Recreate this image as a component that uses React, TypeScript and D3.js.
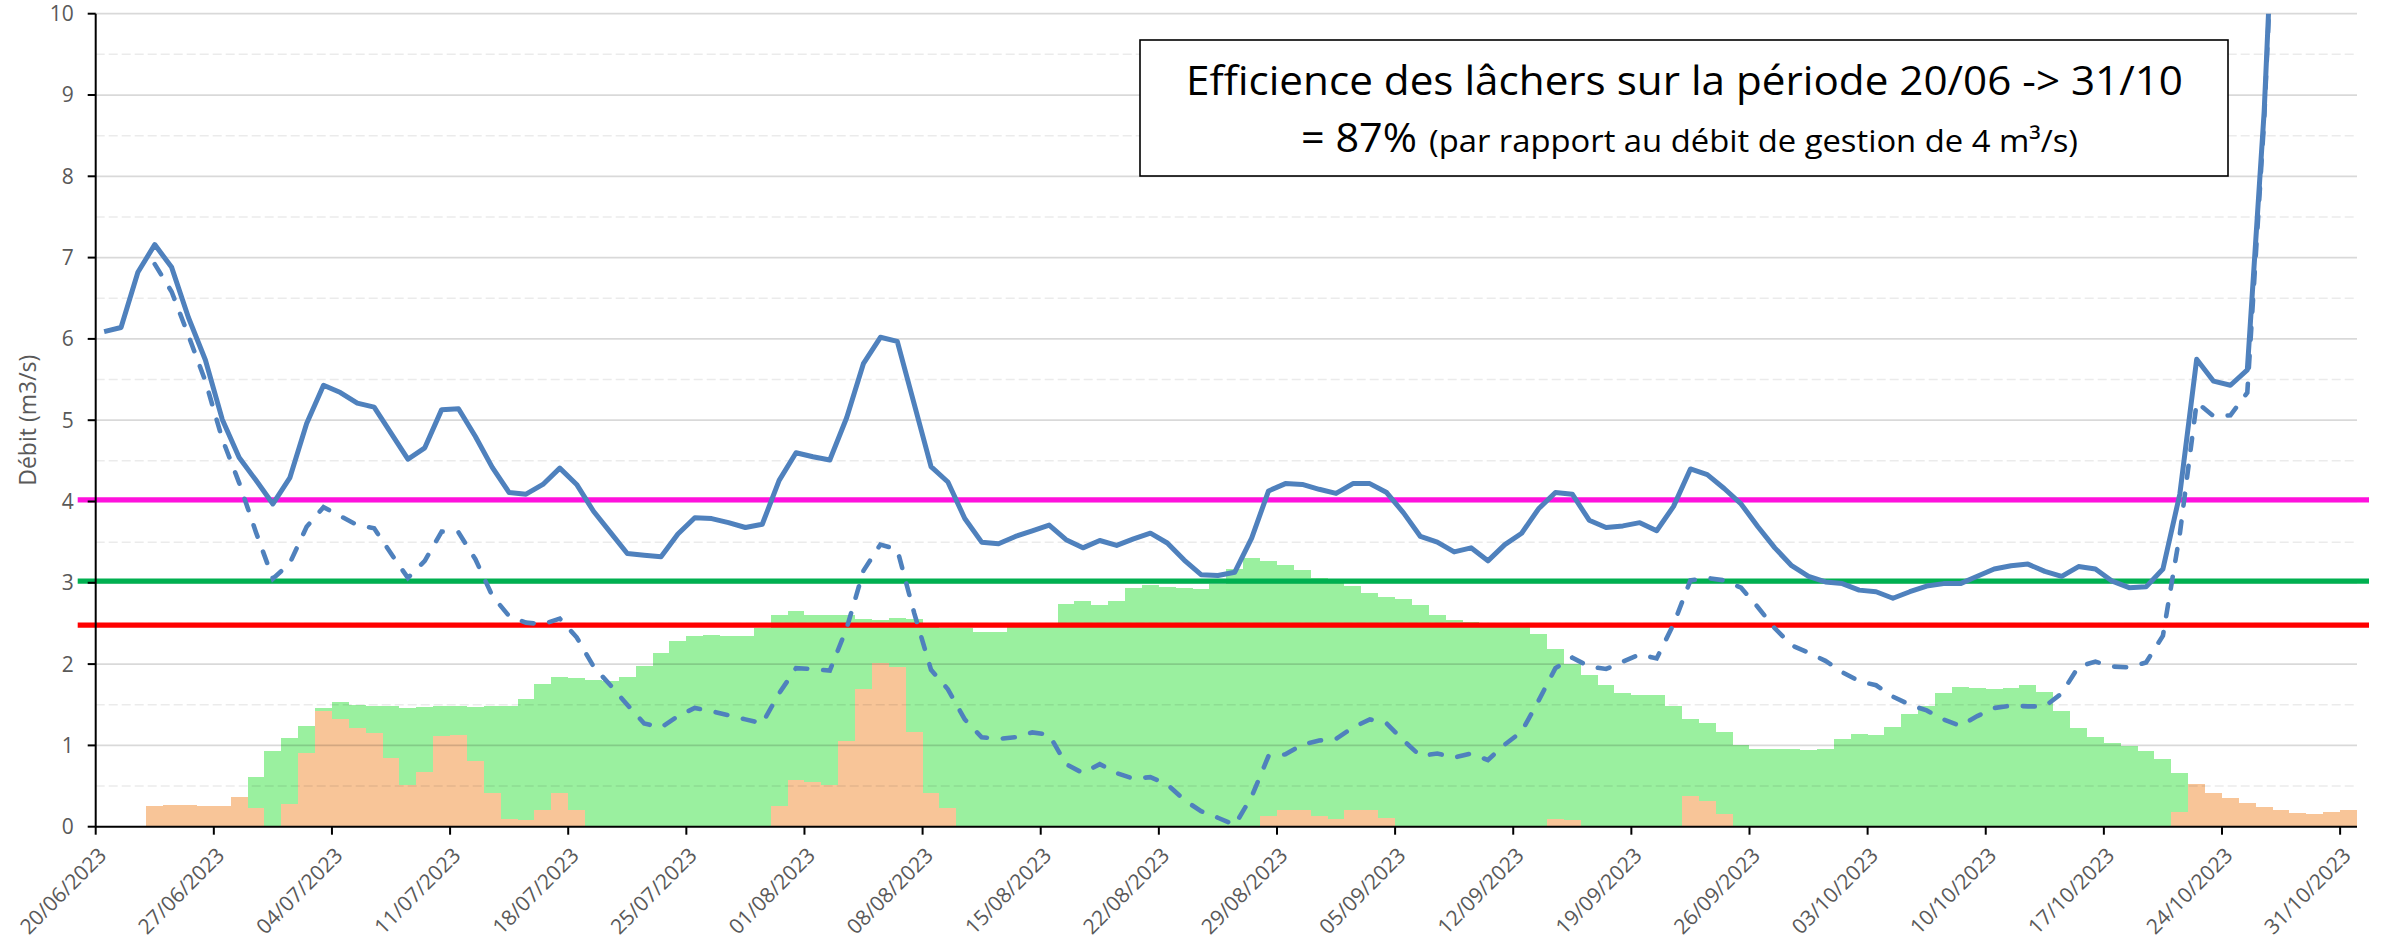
import * as d3 from 'd3';
import { useEffect, useRef } from 'react';

const width = 2387;
const height = 944;
const margin = { top: 13.7, right: 30, bottom: 117.3, left: 95.7 };
const innerWidth = width - margin.left - margin.right;
const innerHeight = height - margin.top - margin.bottom;

const startDate = new Date(2023, 5, 20);
const endDate = new Date(2023, 10, 1);

// daily values, 20/06 -> 31/10 (134 days)
const solidFlow = [
    6.09, 6.14, 6.82, 7.16, 6.88, 6.26, 5.74, 5.01, 4.54, 4.26,
    3.97, 4.29, 4.96, 5.43, 5.34, 5.21, 5.16, 4.84, 4.52, 4.66,
    5.13, 5.14, 4.8, 4.42, 4.11, 4.09, 4.21, 4.41, 4.21, 3.88,
    3.62, 3.36, 3.34, 3.32, 3.6, 3.8, 3.79, 3.74, 3.68, 3.72,
    4.26, 4.6, 4.55, 4.51, 5.03, 5.7, 6.02, 5.97, 5.2, 4.43,
    4.24, 3.79, 3.5, 3.48, 3.57, 3.64, 3.71, 3.53, 3.43, 3.52,
    3.46, 3.54, 3.61, 3.49, 3.28, 3.1, 3.09, 3.13, 3.55, 4.13,
    4.22, 4.21, 4.15, 4.1, 4.22, 4.22, 4.11, 3.86, 3.57, 3.5,
    3.38, 3.43, 3.27, 3.47, 3.61, 3.91, 4.11, 4.09, 3.77, 3.68,
    3.7, 3.74, 3.64, 3.94, 4.4, 4.33, 4.16, 3.97, 3.69, 3.43,
    3.21, 3.08, 3.01, 2.99, 2.91, 2.89, 2.81, 2.89, 2.96, 2.99,
    2.99, 3.08, 3.17, 3.21, 3.23, 3.14, 3.08, 3.2, 3.17, 3.02,
    2.94, 2.95, 3.17, 4.09, 5.75, 5.48, 5.43, 5.62, 8.8, 13.5,
    15.2, 14.1, 12.6, 11.8,
];

const dashedFlow = [
    null, null, null, 6.92, 6.58, 6.04, 5.48, 4.77, 4.23, 3.62,
    3.05, 3.24, 3.69, 3.93, 3.82, 3.71, 3.67, 3.36, 3.06, 3.27,
    3.63, 3.62, 3.29, 2.84, 2.59, 2.51, 2.49, 2.56, 2.33, 1.97,
    1.74, 1.5, 1.27, 1.22, 1.36, 1.46, 1.42, 1.37, 1.32, 1.27,
    1.64, 1.95, 1.94, 1.92, 2.44, 3.15, 3.47, 3.41, 2.63, 1.93,
    1.69, 1.32, 1.1, 1.08, 1.1, 1.16, 1.13, 0.77, 0.66, 0.77,
    0.66, 0.59, 0.61, 0.52, 0.33, 0.19, 0.11, 0.02, 0.37, 0.87,
    0.89, 1.01, 1.06, 1.08, 1.22, 1.32, 1.27, 1.06, 0.87, 0.9,
    0.85, 0.9, 0.82, 1.01, 1.17, 1.55, 1.95, 2.08, 1.97, 1.94,
    2.03, 2.12, 2.07, 2.49, 3.03, 3.06, 3.03, 2.94, 2.7, 2.44,
    2.23, 2.14, 2.04, 1.9, 1.79, 1.74, 1.6, 1.5, 1.43, 1.32,
    1.24, 1.36, 1.46, 1.49, 1.48, 1.48, 1.64, 1.97, 2.03, 1.97,
    1.96, 2.02, 2.35, 3.6, 5.22, 5.05, 5.06, 5.34, 8.7, 13.4,
    15.1, 14.0, 12.5, 11.7,
];

const greenBars = [
    0, 0, 0, 0, 0, 0, 0, 0, 0, 0.61,
    0.93, 1.09, 1.24, 1.46, 1.53, 1.5, 1.49, 1.48, 1.46, 1.47,
    1.48, 1.48, 1.47, 1.48, 1.48, 1.57, 1.75, 1.84, 1.83, 1.81,
    1.79, 1.84, 1.98, 2.14, 2.28, 2.34, 2.36, 2.35, 2.34, 2.44,
    2.6, 2.65, 2.61, 2.6, 2.6, 2.55, 2.54, 2.57, 2.56, 2.47,
    2.45, 2.44, 2.4, 2.4, 2.49, 2.5, 2.5, 2.74, 2.77, 2.73,
    2.78, 2.94, 2.97, 2.95, 2.94, 2.92, 2.99, 3.17, 3.31, 3.27,
    3.22, 3.16, 3.06, 3.03, 2.96, 2.88, 2.83, 2.8, 2.73, 2.6,
    2.54, 2.52, 2.5, 2.49, 2.47, 2.37, 2.19, 2.0, 1.86, 1.74,
    1.64, 1.62, 1.62, 1.49, 1.32, 1.27, 1.16, 1.01, 0.96, 0.95,
    0.96, 0.94, 0.96, 1.08, 1.14, 1.13, 1.23, 1.39, 1.49, 1.64,
    1.72, 1.71, 1.69, 1.7, 1.74, 1.66, 1.42, 1.21, 1.1, 1.03,
    0.99, 0.93, 0.83, 0.66, 0, 0, 0, 0, 0, 0,
    0, 0, 0, 0,
];

const orangeBars = [
    0, 0, 0, 0.25, 0.27, 0.27, 0.26, 0.26, 0.37, 0.23,
    0, 0.28, 0.91, 1.42, 1.33, 1.21, 1.15, 0.84, 0.51, 0.67,
    1.11, 1.13, 0.81, 0.42, 0.1, 0.08, 0.2, 0.41, 0.2, 0,
    0, 0, 0, 0, 0, 0, 0, 0, 0, 0,
    0.25, 0.58, 0.55, 0.51, 1.05, 1.69, 2.01, 1.96, 1.17, 0.42,
    0.23, 0, 0, 0, 0, 0, 0, 0, 0, 0,
    0, 0, 0, 0, 0, 0, 0, 0, 0, 0.13,
    0.21, 0.2, 0.13, 0.09, 0.21, 0.21, 0.11, 0, 0, 0,
    0, 0, 0, 0, 0, 0, 0.1, 0.08, 0, 0,
    0, 0, 0, 0, 0.38, 0.32, 0.16, 0, 0, 0,
    0, 0, 0, 0, 0, 0, 0, 0, 0, 0,
    0, 0, 0, 0, 0, 0, 0, 0, 0, 0,
    0, 0, 0, 0.18, 0.52, 0.42, 0.35, 0.29, 0.24, 0.2,
    0.17, 0.16, 0.18, 0.2,
];

const thresholdLevels = [4.02, 3.02, 2.48];
const thresholdColors = ['#FF11DD', '#00B050', '#FF0000'];

const yTickValues = [0, 1, 2, 3, 4, 5, 6, 7, 8, 9, 10];
const xTickLabels = [
    '20/06/2023', '27/06/2023', '04/07/2023', '11/07/2023', '18/07/2023',
    '25/07/2023', '01/08/2023', '08/08/2023', '15/08/2023', '22/08/2023',
    '29/08/2023', '05/09/2023', '12/09/2023', '19/09/2023', '26/09/2023',
    '03/10/2023', '10/10/2023', '17/10/2023', '24/10/2023', '31/10/2023',
];

export default function App() {
    const chartRef = useRef(null);

    useEffect(() => {
        document.body.style.margin = '0';
        const el = chartRef.current;
        if (!el || el.hasChildNodes()) return;

        const days = d3.timeDay.range(startDate, endDate);
        const parseDay = d3.timeParse('%d/%m/%Y');

        const svg = d3
            .select(el)
            .append('svg')
            .attr('width', width)
            .attr('height', height)
            .style('display', 'block')
            .style('background', '#ffffff')
            .style('font-family', "'Open Sans', sans-serif");

        svg.append('defs')
            .append('clipPath')
            .attr('id', 'plot-clip')
            .append('rect')
            .attr('x', 0)
            .attr('y', 0)
            .attr('width', innerWidth)
            .attr('height', innerHeight);

        const g = svg
            .append('g')
            .attr('transform', `translate(${margin.left},${margin.top})`);

        const x = d3.scaleTime().domain([startDate, endDate]).range([0, innerWidth]);
        const y = d3.scaleLinear().domain([0, 10]).range([innerHeight, 0]);

        const dayStart = (i) => x(days[i]);
        const dayEnd = (i) => x(d3.timeDay.offset(days[i], 1));
        const dayMid = (i) => x(d3.timeHour.offset(days[i], 12));

        // bars: green behind, orange in front (overlapped)
        const drawBars = (values, color) => {
            g.append('g')
                .selectAll('rect')
                .data(values.map((v, i) => ({ v, i })).filter((d) => d.v > 0))
                .join('rect')
                .attr('x', (d) => dayStart(d.i))
                .attr('width', (d) => dayEnd(d.i) - dayStart(d.i))
                .attr('y', (d) => y(d.v))
                .attr('height', (d) => innerHeight - y(d.v))
                .attr('fill', color)
                .attr('shape-rendering', 'crispEdges');
        };
        drawBars(greenBars, '#9AF09F');
        drawBars(orangeBars, '#F8C598');

        // gridlines on top of bars, translucent so they show through
        const minorTicks = d3.range(0.5, 10, 1);
        g.append('g')
            .selectAll('line')
            .data(minorTicks)
            .join('line')
            .attr('x1', 0)
            .attr('x2', innerWidth)
            .attr('y1', (d) => y(d))
            .attr('y2', (d) => y(d))
            .attr('stroke', 'rgba(0,0,0,0.08)')
            .attr('stroke-width', 1.5)
            .attr('stroke-dasharray', '9 4');
        g.append('g')
            .selectAll('line')
            .data(yTickValues.filter((v) => v > 0))
            .join('line')
            .attr('x1', 0)
            .attr('x2', innerWidth)
            .attr('y1', (d) => y(d))
            .attr('y2', (d) => y(d))
            .attr('stroke', 'rgba(0,0,0,0.15)')
            .attr('stroke-width', 1.75);

        // threshold lines
        g.append('g')
            .selectAll('line')
            .data(thresholdLevels)
            .join('line')
            .attr('x1', -18)
            .attr('x2', innerWidth + 12)
            .attr('y1', (d) => y(d))
            .attr('y2', (d) => y(d))
            .attr('stroke', (d, i) => thresholdColors[i])
            .attr('stroke-width', 5.3);

        // flow lines
        const line = d3
            .line()
            .defined((d) => d.v != null)
            .x((d) => dayMid(d.i))
            .y((d) => y(d.v));

        const lines = g.append('g').attr('clip-path', 'url(#plot-clip)');
        lines
            .append('path')
            .datum(dashedFlow.map((v, i) => ({ v, i })))
            .attr('fill', 'none')
            .attr('stroke', '#4F81BD')
            .attr('stroke-width', 4.6)
            .attr('stroke-dasharray', '12 16')
            .attr('stroke-linecap', 'round')
            .attr('d', line);
        lines
            .append('path')
            .datum(solidFlow.map((v, i) => ({ v, i })))
            .attr('fill', 'none')
            .attr('stroke', '#4F81BD')
            .attr('stroke-width', 5)
            .attr('stroke-linejoin', 'round')
            .attr('d', line);

        // axes
        g.append('line')
            .attr('x1', 0)
            .attr('x2', 0)
            .attr('y1', 0)
            .attr('y2', innerHeight)
            .attr('stroke', '#000')
            .attr('stroke-width', 2);
        g.append('line')
            .attr('x1', 0)
            .attr('x2', innerWidth)
            .attr('y1', innerHeight)
            .attr('y2', innerHeight)
            .attr('stroke', '#000')
            .attr('stroke-width', 2);

        const yTicks = g.append('g');
        yTicks
            .selectAll('line')
            .data(yTickValues)
            .join('line')
            .attr('x1', -8)
            .attr('x2', 0)
            .attr('y1', (d) => y(d))
            .attr('y2', (d) => y(d))
            .attr('stroke', '#000')
            .attr('stroke-width', 2);
        yTicks
            .selectAll('text')
            .data(yTickValues)
            .join('text')
            .attr('x', -22)
            .attr('y', (d) => y(d) + 7.5)
            .attr('text-anchor', 'end')
            .attr('fill', '#595959')
            .style('font-size', '21px')
            .text((d) => d);

        const xTicks = g.append('g');
        xTicks
            .selectAll('line')
            .data(xTickLabels)
            .join('line')
            .attr('x1', (d) => x(parseDay(d)))
            .attr('x2', (d) => x(parseDay(d)))
            .attr('y1', innerHeight)
            .attr('y2', innerHeight + 8)
            .attr('stroke', '#000')
            .attr('stroke-width', 2);
        xTicks
            .selectAll('text')
            .data(xTickLabels)
            .join('text')
            .attr(
                'transform',
                (d) => `translate(${x(parseDay(d)) + 12},${innerHeight + 30}) rotate(-45)`
            )
            .attr('text-anchor', 'end')
            .attr('fill', '#595959')
            .style('font-size', '21px')
            .text((d) => d);

        // y axis title
        svg.append('text')
            .attr('transform', `translate(36,${margin.top + innerHeight / 2}) rotate(-90)`)
            .attr('text-anchor', 'middle')
            .attr('fill', '#595959')
            .style('font-size', '23px')
            .text('Débit (m3/s)');

        // annotation box
        const box = svg.append('g');
        box.append('rect')
            .attr('x', 1140)
            .attr('y', 40)
            .attr('width', 1088)
            .attr('height', 136)
            .attr('fill', '#fff')
            .attr('stroke', '#000')
            .attr('stroke-width', 1.6);
        box.append('text')
            .attr('x', 1186)
            .attr('y', 95)
            .attr('textLength', 997)
            .attr('lengthAdjust', 'spacingAndGlyphs')
            .attr('fill', '#000')
            .style('font-size', '41px')
            .text('Efficience des lâchers sur la période 20/06 -> 31/10');
        box.append('text')
            .attr('x', 1301)
            .attr('y', 152)
            .attr('textLength', 116)
            .attr('lengthAdjust', 'spacingAndGlyphs')
            .attr('fill', '#000')
            .style('font-size', '41px')
            .text('= 87%');
        box.append('text')
            .attr('x', 1429)
            .attr('y', 152)
            .attr('textLength', 649)
            .attr('lengthAdjust', 'spacingAndGlyphs')
            .attr('fill', '#000')
            .style('font-size', '31px')
            .text('(par rapport au débit de gestion de 4 m³/s)');
    }, []);

    return <div ref={chartRef}></div>;
}
